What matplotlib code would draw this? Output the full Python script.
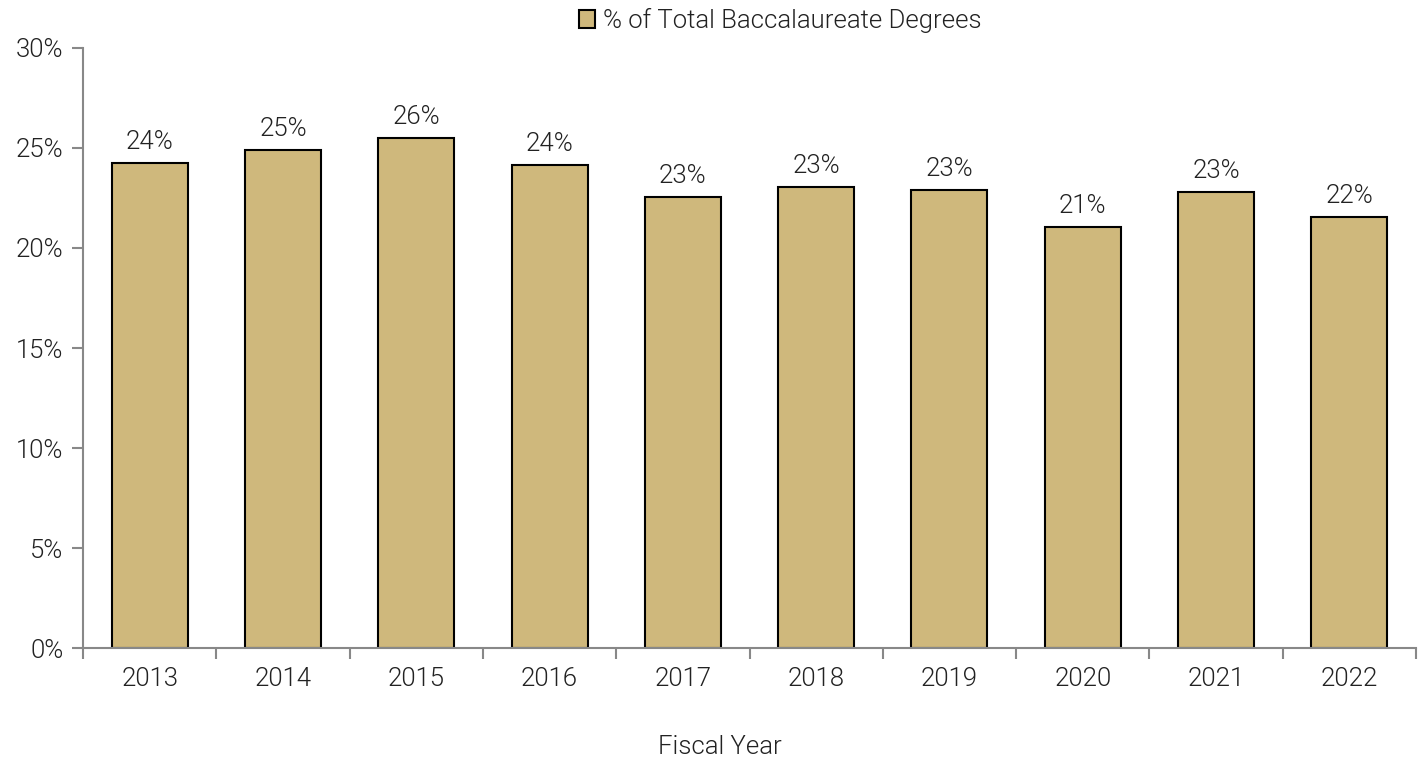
import matplotlib
matplotlib.use('Agg')
import matplotlib.pyplot as plt
import numpy as np
from matplotlib.ticker import FuncFormatter, FixedLocator

years = ['2013', '2014', '2015', '2016', '2017', '2018', '2019', '2020', '2021', '2022']
pct = [24.25, 24.9, 25.5, 24.15, 22.55, 23.05, 22.9, 21.05, 22.8, 21.55]
series_name = '% of Total Baccalaureate Degrees'

plt.rcParams['font.family'] = ['Roboto', 'DejaVu Sans']
plt.rcParams['font.weight'] = 300
plt.rcParams['axes.labelweight'] = 300

fs = 18.5
fig = plt.figure(figsize=(14.26, 7.59), dpi=100)
ax = fig.add_axes([0.0582, 0.1462, 0.9348, 0.7906])

x = np.arange(len(years))
bars = ax.bar(x, pct, width=0.57, color='#cfb87c', edgecolor='black', linewidth=1.5,
              label=series_name, zorder=2)

for xi, v in zip(x, pct):
    ax.text(xi, v + 0.45, f'{round(v):.0f}%', ha='center', va='bottom', fontsize=fs,
            color='#222222')

ax.set_xlim(-0.5, len(years) - 0.5)
ax.set_ylim(0, 30)
ax.set_yticks(np.arange(0, 31, 5))
ax.yaxis.set_major_formatter(FuncFormatter(lambda v, p: f'{v:.0f}%'))
ax.set_xticks(x)
ax.set_xticklabels(years)
ax.xaxis.set_minor_locator(FixedLocator(np.arange(-0.5, len(years), 1.0)))
ax.tick_params(axis='x', which='major', length=0, pad=14, labelsize=fs, labelcolor='#222222')
ax.tick_params(axis='x', which='minor', length=8, color='#888888', width=1.5, direction='out')
ax.tick_params(axis='y', length=8, color='#888888', width=1.5, labelsize=fs, labelcolor='#222222', pad=6)

for s in ['top', 'right']:
    ax.spines[s].set_visible(False)
for s in ['left', 'bottom']:
    ax.spines[s].set_color('#888888')
    ax.spines[s].set_linewidth(1.5)

ax.set_xlabel('Fiscal Year', fontsize=fs, color='#222222', labelpad=32)
ax.xaxis.set_label_coords(0.478, -0.145)

leg = fig.legend(handles=[bars], labels=[series_name], loc='upper center',
                 bbox_to_anchor=(0.547, 1.02), frameon=False, fontsize=fs,
                 handlelength=0.65, handleheight=0.65, handletextpad=0.3)
for t in leg.get_texts():
    t.set_color('#222222')

fig.savefig('out.png', dpi=100)
